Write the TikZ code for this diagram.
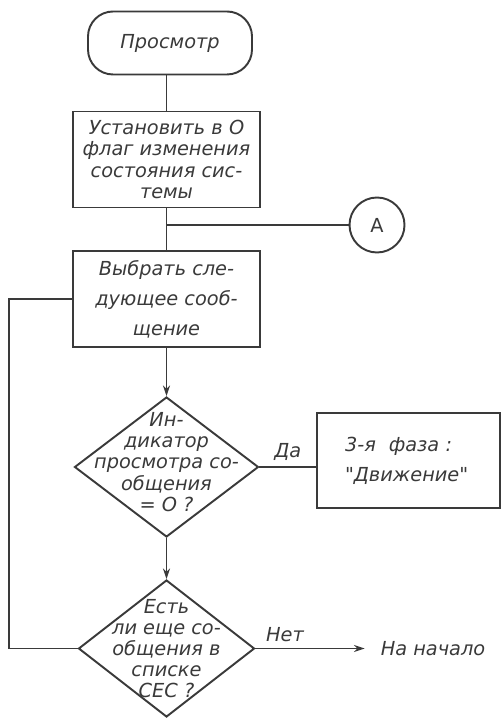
\documentclass[tikz,border=0pt]{standalone}
\usepackage{fontspec}
\setmainfont{DejaVu Sans}[Ligatures=TeXOff]
\usepackage{xcolor}
\usetikzlibrary{positioning,arrows.meta,shapes.geometric}
\definecolor{inkgray}{HTML}{3A3A3A}

\begin{document}
\begin{tikzpicture}[
  every node/.style={font=\fontsize{11}{12}\selectfont\itshape, text=inkgray},
  block/.style={rectangle, draw=inkgray, line width=1.1pt, minimum width=3.74cm,
               minimum height=1.92cm, align=center, inner sep=2pt},
  terminal/.style={rectangle, draw=inkgray, line width=1.1pt, rounded corners=0.5cm,
               minimum width=3.28cm, minimum height=1.26cm},
  decision/.style={diamond, draw=inkgray, line width=1.1pt, inner sep=0pt},
  connector/.style={circle, draw=inkgray, line width=1.1pt, minimum size=1.1cm, inner sep=0pt},
  link/.style={draw=inkgray, line width=1.1pt},
  flow/.style={link, -{Stealth[length=6pt, width=4pt]}}
]
\useasboundingbox (0,0) rectangle (10.06,-14.36);

\node[terminal] (start) at (3.4,-0.86) {Просмотр};
\node[block] (reset) at (3.33,-3.19)
  {Установить в О\\флаг изменения\\состояния сис-\\темы};
\coordinate (join) at (3.33,-4.5);
\node[connector, font=\fontsize{11}{12}\selectfont] (conA) at (7.54,-4.5) {А};
\node[block] (pick) at (3.33,-5.98)
  {Выбрать сле-\\[5pt]дующее сооб-\\[5pt]щение};
\node[decision, minimum width=3.68cm, minimum height=2.8cm] (seen) at (3.33,-9.34) {};
\node[align=center] (seentext) at ([yshift=1mm]seen.center)
  {Ин-\\дикатор\\просмотра со-\\общения\\= О ?};
\node[block, minimum width=3.66cm, minimum height=1.9cm, align=left,
      text width=2.54cm, inner xsep=0.56cm] (phase) at (8.17,-9.21)
  {3-я \ фаза :\\[5pt]"Движение"};
\node[decision, minimum width=3.52cm, minimum height=2.74cm] (more) at (3.33,-12.97) {};
\node[align=center] (moretext) at (more.center)
  {Есть\\ли еще со-\\общения в\\списке\\СЕС ?};
\node (restart) at (8.66,-12.97) {На начало};

\draw[link] (start.south -| reset.north) -- (reset.north);
\draw[link] (reset) -- (pick);
\draw[link] (join) -- (conA);
\draw[flow] (pick) -- (seen);
\draw[link] (seen.east) -- (seen.east -| phase.west) node[midway, above] (yes) {Да};
\draw[flow] (seen) -- (more);
% back to the next message
\coordinate (loop) at (0.18,0 |- more.west);
\draw[link] (more.west) -- (loop) |- (pick.west);
% no more messages
\coordinate (noend) at ([xshift=-0.2cm]restart.west);
\draw[flow] (more.east) -- (noend) node[pos=0.27, above] (no) {Нет};
\end{tikzpicture}
\end{document}
